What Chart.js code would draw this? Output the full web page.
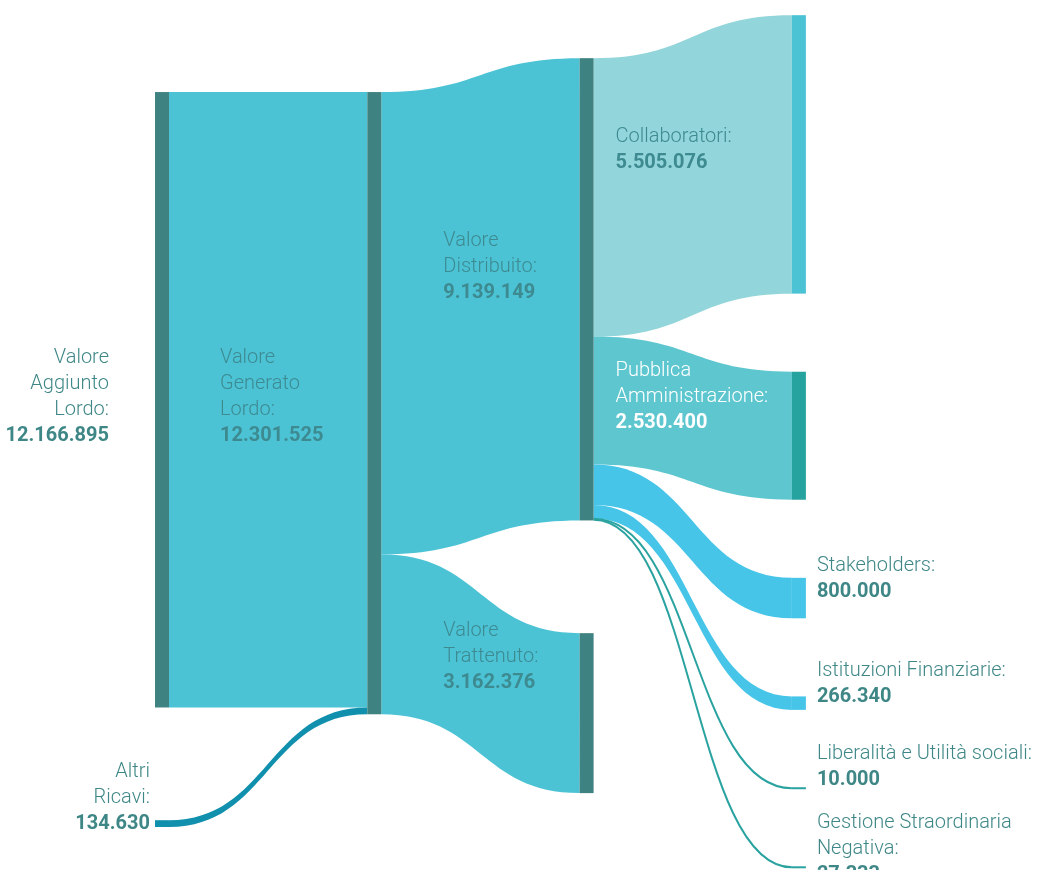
<!DOCTYPE html>
<html lang="it">
<head>
<meta charset="utf-8">
<title>Valore Aggiunto – distribuzione</title>
<script src="https://cdn.jsdelivr.net/npm/chart.js@4/dist/chart.umd.min.js"></script>
<style>
  html, body { margin: 0; padding: 0; background: #fff; }
  #wrap { width: 1037px; height: 870px; position: relative; }
</style>
</head>
<body>
<div id="wrap"><canvas id="sankeyChart"></canvas></div>
<script>
/* -------------------------------------------------------
   Data
------------------------------------------------------- */
const NODE_IDS = [
  'aggiunto', 'altri', 'generato', 'distribuito', 'trattenuto',
  'collaboratori', 'pa', 'stakeholders', 'istituzioni', 'liberalita', 'straordinaria'
];
const NODE_NAMES = [
  ['Valore', 'Aggiunto', 'Lordo:'],
  ['Altri', 'Ricavi:'],
  ['Valore', 'Generato', 'Lordo:'],
  ['Valore', 'Distribuito:'],
  ['Valore', 'Trattenuto:'],
  ['Collaboratori:'],
  ['Pubblica', 'Amministrazione:'],
  ['Stakeholders:'],
  ['Istituzioni Finanziarie:'],
  ['Liberalità e Utilità sociali:'],
  ['Gestione Straordinaria', 'Negativa:']
];

const LINK_FROM   = ['aggiunto', 'altri', 'generato', 'generato', 'distribuito', 'distribuito', 'distribuito', 'distribuito', 'distribuito', 'distribuito'];
const LINK_TO     = ['generato', 'generato', 'distribuito', 'trattenuto', 'collaboratori', 'pa', 'stakeholders', 'istituzioni', 'liberalita', 'straordinaria'];
const LINK_VALUES = [12166895, 134630, 9139149, 3162376, 5505076, 2530400, 800000, 266340, 10000, 27333];

/* -------------------------------------------------------
   Colours & layout
------------------------------------------------------- */
const TEAL_DARK = '#3e8281';
const CYAN      = '#4cc3d5';

const NODE_COLORS = {
  aggiunto: TEAL_DARK, altri: '#1190ae', generato: TEAL_DARK,
  distribuito: TEAL_DARK, trattenuto: TEAL_DARK,
  collaboratori: CYAN, pa: '#27a39f',
  stakeholders: '#47c5e8', istituzioni: '#47c5e8',
  liberalita: '#2aa3a0', straordinaria: '#2aa3a0'
};
// flow colour follows the target node, except where the source is listed
const LINK_COLORS_BY_SOURCE = { altri: '#1190ae' };
const LINK_COLORS_BY_TARGET = {
  generato: CYAN, distribuito: CYAN, trattenuto: CYAN,
  collaboratori: '#92d5da', pa: '#5dc6cf',
  stakeholders: '#47c5e8', istituzioni: '#47c5e8',
  liberalita: '#2aa3a0', straordinaria: '#2aa3a0'
};

// vertical span of every column, in value units (y axis runs top -> bottom)
const COL_TOP    = [1.82e6, 1.82e6, 1.15e6, 0.30e6];
const COL_BOTTOM = [16.35e6, null, 15.68e6, 17.16e6];
const Y_MAX      = 17.2e6;

const NODE_WIDTH = 14;
const MIN_LINE   = 2;     // hairline floor for the tiny flows
const LINE_H     = 26;
const FONT       = "'Roboto', 'Liberation Sans', sans-serif";

const TEXT_OUT = '#3f8787';
const TEXT_IN  = '#3d8a90';

// label placement: left of node, inside the incoming flow, or right of node
const LABEL_STYLE = {
  aggiunto:      { mode: 'left',   gap: 46, valign: 'middle', dy: -3,  color: TEXT_OUT },
  altri:         { mode: 'left',   gap: 5,  valign: 'last',   dy: 0,   color: TEXT_OUT },
  generato:      { mode: 'inside', gap: 51, valign: 'middle', dy: -6,  color: TEXT_IN },
  distribuito:   { mode: 'inside', gap: 62, valign: 'middle', dy: -22, color: TEXT_IN },
  trattenuto:    { mode: 'inside', gap: 62, valign: 'middle', dy: -56, color: TEXT_IN },
  collaboratori: { mode: 'inside', gap: 22, valign: 'middle', dy: -4,  color: TEXT_IN },
  pa:            { mode: 'inside', gap: 22, valign: 'middle', dy: -39, color: '#ffffff' },
  stakeholders:  { mode: 'right',  gap: 11, valign: 'last',   dy: -6,  color: TEXT_OUT },
  istituzioni:   { mode: 'right',  gap: 11, valign: 'last',   dy: -6,  color: TEXT_OUT },
  liberalita:    { mode: 'right',  gap: 11, valign: 'last',   dy: -8,  color: TEXT_OUT },
  straordinaria: { mode: 'right',  gap: 11, valign: 'last',   dy: 8,   color: TEXT_OUT }
};

const fmt = v => String(v).replace(/\B(?=(\d{3})+(?!\d))/g, '.');

/* -------------------------------------------------------
   Sankey layout (value units)
------------------------------------------------------- */
function buildLayout() {
  const nodes = {};
  NODE_IDS.forEach((id, i) => {
    nodes[id] = { id, name: NODE_NAMES[i], inSum: 0, outSum: 0, col: 0, inOff: 0, outOff: 0 };
  });
  const links = LINK_FROM.map((f, i) => ({ from: f, to: LINK_TO[i], value: LINK_VALUES[i] }));
  links.forEach(l => { nodes[l.from].outSum += l.value; nodes[l.to].inSum += l.value; });

  // column = depth along the links
  let changed = true;
  while (changed) {
    changed = false;
    links.forEach(l => {
      if (nodes[l.to].col < nodes[l.from].col + 1) { nodes[l.to].col = nodes[l.from].col + 1; changed = true; }
    });
  }
  NODE_IDS.forEach(id => { const n = nodes[id]; n.value = Math.max(n.inSum, n.outSum); });

  const cols = [];
  NODE_IDS.forEach(id => { const n = nodes[id]; (cols[n.col] = cols[n.col] || []).push(n); });
  cols.forEach((list, c) => {
    const total = list.reduce((a, n) => a + n.value, 0);
    const gap = list.length > 1 && COL_BOTTOM[c] != null
      ? (COL_BOTTOM[c] - COL_TOP[c] - total) / (list.length - 1) : 0;
    let y = COL_TOP[c];
    list.forEach(n => { n.y0 = y; n.y1 = y + n.value; y = n.y1 + gap; });
  });

  links.forEach(l => {
    const s = nodes[l.from], t = nodes[l.to];
    l.sy = s.y0 + s.outOff; s.outOff += l.value;
    l.ty = t.y0 + t.inOff;  t.inOff += l.value;
  });
  return { nodes, links, cols };
}

const LAYOUT = buildLayout();

/* -------------------------------------------------------
   Plugin: draws flows, nodes and labels on the chart scales
------------------------------------------------------- */
const sankeyPlugin = {
  id: 'sankeyDraw',
  afterDatasetsDraw(chart) {
    const { ctx, scales: { x, y } } = chart;
    const { nodes, links } = LAYOUT;
    const left  = n => x.getPixelForValue(n.col) - NODE_WIDTH / 2;
    const right = n => x.getPixelForValue(n.col) + NODE_WIDTH / 2;

    ctx.save();

    // flows
    links.forEach(l => {
      const s = nodes[l.from], t = nodes[l.to];
      const x0 = right(s), x1 = left(t), xm = (x0 + x1) / 2;
      const a0 = y.getPixelForValue(l.sy), a1 = y.getPixelForValue(l.sy + l.value);
      const b0 = y.getPixelForValue(l.ty), b1 = y.getPixelForValue(l.ty + l.value);
      const color = LINK_COLORS_BY_SOURCE[l.from] || LINK_COLORS_BY_TARGET[l.to];
      if (a1 - a0 < MIN_LINE) {
        const am = (a0 + a1) / 2, bm = (b0 + b1) / 2;
        ctx.beginPath();
        ctx.moveTo(x0, am);
        ctx.bezierCurveTo(xm, am, xm, bm, x1, bm);
        ctx.strokeStyle = color;
        ctx.lineWidth = MIN_LINE;
        ctx.stroke();
      } else {
        ctx.beginPath();
        ctx.moveTo(x0, a0);
        ctx.bezierCurveTo(xm, a0, xm, b0, x1, b0);
        ctx.lineTo(x1, b1);
        ctx.bezierCurveTo(xm, b1, xm, a1, x0, a1);
        ctx.closePath();
        ctx.fillStyle = color;
        ctx.fill();
      }
    });

    // nodes
    NODE_IDS.forEach(id => {
      const n = nodes[id];
      let top = y.getPixelForValue(n.y0), bot = y.getPixelForValue(n.y1);
      if (bot - top < MIN_LINE) { const m = (top + bot) / 2; top = m - MIN_LINE / 2; bot = m + MIN_LINE / 2; }
      ctx.fillStyle = NODE_COLORS[id];
      ctx.fillRect(left(n), top, NODE_WIDTH, bot - top);
    });

    // labels
    ctx.textBaseline = 'middle';
    NODE_IDS.forEach(id => {
      const n = nodes[id], st = LABEL_STYLE[id];
      const lines = n.name.map(t => ({ t, bold: false })).concat([{ t: fmt(n.value), bold: true }]);
      const cy = (y.getPixelForValue(n.y0) + y.getPixelForValue(n.y1)) / 2 + st.dy;
      const firstY = st.valign === 'last'
        ? cy - (lines.length - 1) * LINE_H
        : cy - (lines.length - 1) * LINE_H / 2;

      let tx;
      if (st.mode === 'left') {
        tx = left(n) - st.gap; ctx.textAlign = 'right';
      } else if (st.mode === 'right') {
        tx = right(n) + st.gap; ctx.textAlign = 'left';
      } else {
        tx = x.getPixelForValue(n.col - 1) + NODE_WIDTH / 2 + st.gap; ctx.textAlign = 'left';
      }
      ctx.fillStyle = st.color;
      lines.forEach((ln, i) => {
        ctx.font = (ln.bold ? '700 ' : '300 ') + '20px ' + FONT;
        ctx.fillText(ln.t, tx, firstY + i * LINE_H);
      });
    });

    ctx.restore();
  }
};

/* -------------------------------------------------------
   Chart
------------------------------------------------------- */
// column i sits at x = i; the range puts the columns at 162, 374, 587, 799 px
const X_MIN = -162 / 212.3;
const X_MAX = (1037 - 162) / 212.3;

new Chart(document.getElementById('sankeyChart'), {
  type: 'scatter',
  data: { datasets: [{ data: [], pointRadius: 0 }] },
  options: {
    responsive: true,
    maintainAspectRatio: false,
    animation: false,
    layout: { padding: 0 },
    plugins: { legend: { display: false }, tooltip: { enabled: false } },
    scales: {
      x: { type: 'linear', min: X_MIN, max: X_MAX, display: false },
      y: { type: 'linear', min: 0, max: Y_MAX, reverse: true, display: false }
    }
  },
  plugins: [sankeyPlugin]
});
</script>
</body>
</html>
